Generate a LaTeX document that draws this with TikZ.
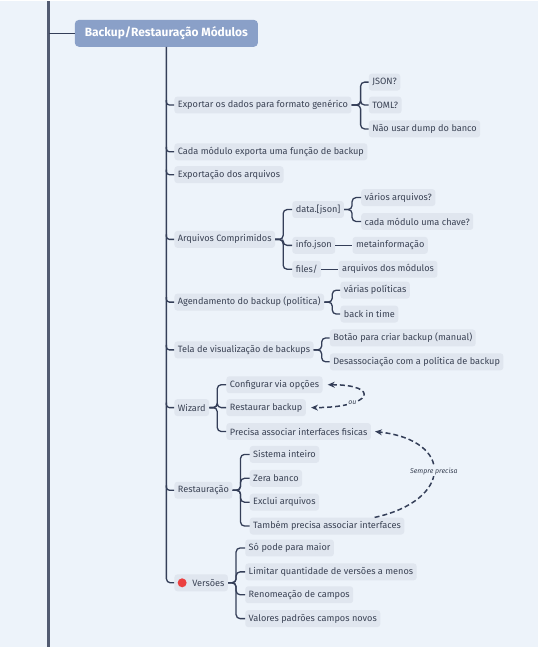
\documentclass[tikz,border=0pt]{standalone}
\usepackage{fontspec}
\setmainfont{Fira Sans}
\usepackage{tikz}
\usetikzlibrary{arrows.meta,positioning,calc}
\definecolor{mapBg}{RGB}{237,243,250}
\definecolor{mapRoot}{RGB}{138,160,200}
\definecolor{mapBox}{RGB}{224,230,239}
\definecolor{mapText}{RGB}{58,66,84}
\definecolor{mapLine}{RGB}{52,62,88}
\definecolor{mapDot}{RGB}{235,64,64}

\begin{document}
\begin{tikzpicture}[x=1pt, y=-1pt,
    rootbox/.style={fill=mapRoot, rounded corners=4pt, text=white, anchor=west,
      font=\fontsize{12}{14}\selectfont\bfseries, minimum height=27pt, inner xsep=10pt},
    topic/.style={fill=mapBox, rounded corners=3pt, text=mapText, anchor=west,
      font=\fontsize{9.2}{11}\selectfont, minimum height=17pt, inner xsep=3.5pt, inner ysep=2pt},
    spine/.style={draw=mapLine!85, line width=3pt},
    link/.style={draw=mapLine, line width=1.3pt, rounded corners=4pt},
    relation/.style={draw=mapLine, line width=1.5pt, dash pattern=on 5pt off 3pt},
    rellabel/.style={fill=mapBg, inner sep=1pt, text=mapText, font=\fontsize{7}{8}\selectfont\itshape},
    >={Stealth[length=7pt,width=6pt]}
  ]
  \fill[mapBg] (0,0) rectangle (540,648);

  % spine and root
  \coordinate (spinetop) at (49,0);
  \coordinate (spinebot) at (49,648);
  \draw[spine] (spinetop) -- (spinebot);
  \node[rootbox] (root) at (75,32) {Backup/Restauração Módulos};
  \draw[link] (spinetop |- root.west) -- (root.west);

  % first level
  \node[topic] (exp) at (175,104) {Exportar os dados para formato genérico};
  \node[topic] (cada) at (175,151) {Cada módulo exporta uma função de backup};
  \node[topic] (expa) at (175,174) {Exportação dos arquivos};
  \node[topic] (arq) at (175,239) {Arquivos Comprimidos};
  \node[topic] (age) at (175,302) {Agendamento do backup (política)};
  \node[topic] (tela) at (175,350) {Tela de visualização de backups};
  \node[topic] (wiz) at (175,408) {Wizard};
  \node[topic] (rest) at (175,491) {Restauração};
  \node[topic] (ver) at (175,584) {\hspace*{14.5pt}Versões};
  \fill[mapDot] ($(ver.west)+(8,0)$) circle (4.5pt);

  \draw[link] (root.south) |- (ver.west);
  \foreach \t in {exp,cada,expa,arq,age,tela,wiz,rest}
    \draw[link, rounded corners=3pt] ($(root.south |- \t.west)+(0,-5)$) |- (\t.west);

  % second level
  \node[topic, right=17pt of exp, yshift=23pt] (json) {JSON?};
  \node[topic, right=17pt of exp] (toml) {TOML?};
  \node[topic, right=17pt of exp, yshift=-24pt] (dump) {Não usar dump do banco};

  \node[topic, right=17pt of arq, yshift=30pt] (data) {data.[json]};
  \node[topic, right=17pt of arq, yshift=-6pt] (info) {info.json};
  \node[topic, right=17pt of arq, yshift=-30pt] (files) {files/};
  \node[topic, right=17pt of data, yshift=12pt] (varios) {vários arquivos?};
  \node[topic, right=17pt of data, yshift=-12pt] (chave) {cada módulo uma chave?};
  \node[topic, right=17pt of info] (meta) {metainformação};
  \node[topic, right=17pt of files] (arqmod) {arquivos dos módulos};

  \node[topic, right=16pt of age, yshift=12pt] (politicas) {várias políticas};
  \node[topic, right=16pt of age, yshift=-12pt] (backin) {back in time};

  \node[topic, right=16pt of tela, yshift=12pt] (botao) {Botão para criar backup (manual)};
  \node[topic, right=16pt of tela, yshift=-12pt] (desas) {Desassociação com a política de backup};

  \node[topic, right=17pt of wiz, yshift=23pt] (conf) {Configurar via opções};
  \node[topic, right=17pt of wiz] (restb) {Restaurar backup};
  \node[topic, right=17pt of wiz, yshift=-24pt] (prec) {Precisa associar interfaces fisicas};

  \node[topic, right=17pt of rest, yshift=36pt] (sist) {Sistema inteiro};
  \node[topic, right=17pt of rest, yshift=12pt] (zera) {Zera banco};
  \node[topic, right=17pt of rest, yshift=-12pt] (excl) {Exclui arquivos};
  \node[topic, right=17pt of rest, yshift=-36pt] (tamb) {Também precisa associar interfaces};

  \node[topic, right=17pt of ver, yshift=35pt] (so) {Só pode para maior};
  \node[topic, right=17pt of ver, yshift=11pt] (lim) {Limitar quantidade de versões a menos};
  \node[topic, right=17pt of ver, yshift=-12pt] (ren) {Renomeação de campos};
  \node[topic, right=17pt of ver, yshift=-36pt] (val) {Valores padrões campos novos};

  \foreach \c in {json,toml,dump}
    \draw[link] (exp.east) -- ++(9,0) |- (\c.west);
  \foreach \c in {data,info,files}
    \draw[link] (arq.east) -- ++(8,0) |- (\c.west);
  \foreach \c in {varios,chave}
    \draw[link] (data.east) -- ++(8,0) |- (\c.west);
  \draw[link] (info.east) -- (meta.west);
  \draw[link] (files.east) -- (arqmod.west);
  \foreach \c in {politicas,backin}
    \draw[link] (age.east) -- ++(8,0) |- (\c.west);
  \foreach \c in {botao,desas}
    \draw[link] (tela.east) -- ++(8,0) |- (\c.west);
  \foreach \c in {conf,restb,prec}
    \draw[link] (wiz.east) -- ++(8,0) |- (\c.west);
  \foreach \c in {sist,zera,excl,tamb}
    \draw[link] (rest.east) -- ++(8,0) |- (\c.west);
  \foreach \c in {so,lim,ren,val}
    \draw[link] (ver.east) -- ++(8,0) |- (\c.west);

  % relationships
  \draw[relation, <->] ([xshift=5pt]conf.east) .. controls +(53,0) and +(63,0) ..
    node[rellabel, pos=0.7] {ou} ([xshift=5pt]restb.east);
  \draw[relation, ->] ([xshift=-30pt]tamb.north east) .. controls +(78,-17) and +(80,9) ..
    node[rellabel, pos=0.5] {Sempre precisa} ([xshift=4pt]prec.east);
\end{tikzpicture}
\end{document}
